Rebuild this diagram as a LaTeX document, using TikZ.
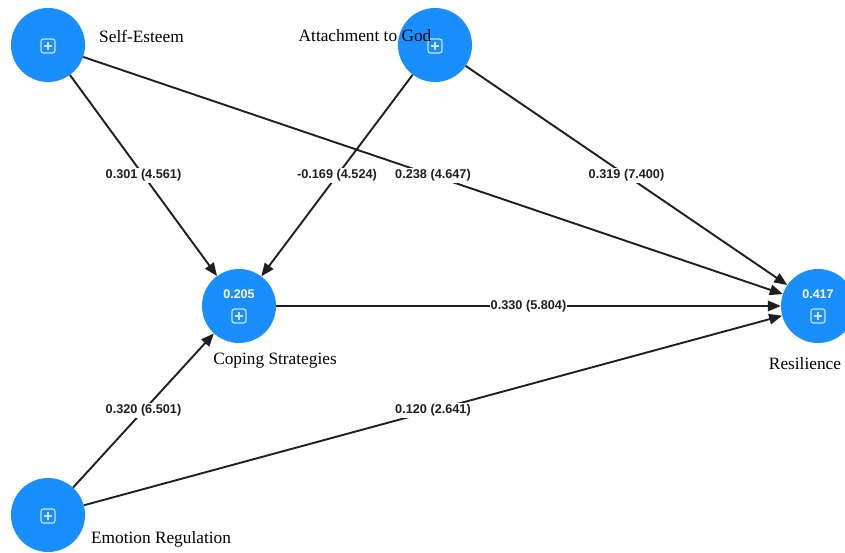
\documentclass[tikz,border=0pt]{standalone}
\usepackage{fontspec}
\setmainfont{Liberation Serif}
\newfontfamily\lblfont{Liberation Sans}
\usetikzlibrary{arrows.meta}
\definecolor{nodeblue}{RGB}{24,142,255}
\definecolor{iconcol}{RGB}{205,228,255}
\tikzset{
  lv/.style={circle, fill=nodeblue, minimum size=74pt, inner sep=0pt},
  conn/.style={line width=1.9pt, draw=black!88, -{Triangle[length=13pt,width=10.5pt]}},
  coef/.style={fill=white, inner sep=1.2pt, text=black!88,
    font=\lblfont\bfseries\fontsize{12.7}{14}\selectfont},
  vname/.style={font=\fontsize{17.3}{20}\selectfont, inner sep=0pt},
  rsq/.style={font=\lblfont\bfseries\fontsize{12.5}{14}\selectfont, text=white, inner sep=0pt},
  plusicon/.pic={
    \draw[iconcol, line width=1.2pt, rounded corners=2.4pt] (-7,-7) rectangle (7,7);
    \draw[iconcol, line width=1.2pt] (-4.3,0) -- (4.3,0) (0,-4.3) -- (0,4.3);
  }
}
\begin{document}
\begin{tikzpicture}[x=1pt, y=-1pt]
\useasboundingbox (0,0) rectangle (845,552);
\fill[white] (0,0) rectangle (845,552);
% latent variables
\node[lv] (se) at (48,45) {};
\node[lv] (ag) at (435,45) {};
\node[lv] (cs) at (239,306) {};
\node[lv] (re) at (818,306) {};
\node[lv] (er) at (48,515) {};
% icons and R^2
\pic at (48,46) {plusicon};
\pic at (435,46) {plusicon};
\pic at (239,316) {plusicon};
\pic at (818,316) {plusicon};
\pic at (48,516) {plusicon};
\node[rsq] (csr) at (239,294) {0.205};
\node[rsq] (rer) at (818,294) {0.417};
% paths
\draw[conn] (se) -- node[coef] (l1) {0.301 (4.561)} (cs);
\draw[conn] (se) -- node[coef] (l2) {0.238 (4.647)} (re);
\draw[conn] (ag) -- node[coef] (l3) {-0.169 (4.524)} (cs);
\draw[conn] (ag) -- node[coef] (l4) {0.319 (7.400)} (re);
\draw[conn] (cs) -- node[coef] (l5) {0.330 (5.804)} (re);
\draw[conn] (er) -- node[coef] (l6) {0.320 (6.501)} (cs);
\draw[conn] (er) -- node[coef] (l7) {0.120 (2.641)} (re);
% names
\node[vname, anchor=west] (sen) at (99,36) {Self-Esteem};
\node[vname] (agn) at (365,36) {Attachment to God};
\node[vname] (csn) at (275,361) {Coping Strategies};
\node[vname] (ren) at (805,364) {Resilience};
\node[vname] (ern) at (161,539) {Emotion Regulation};
\end{tikzpicture}
\end{document}
